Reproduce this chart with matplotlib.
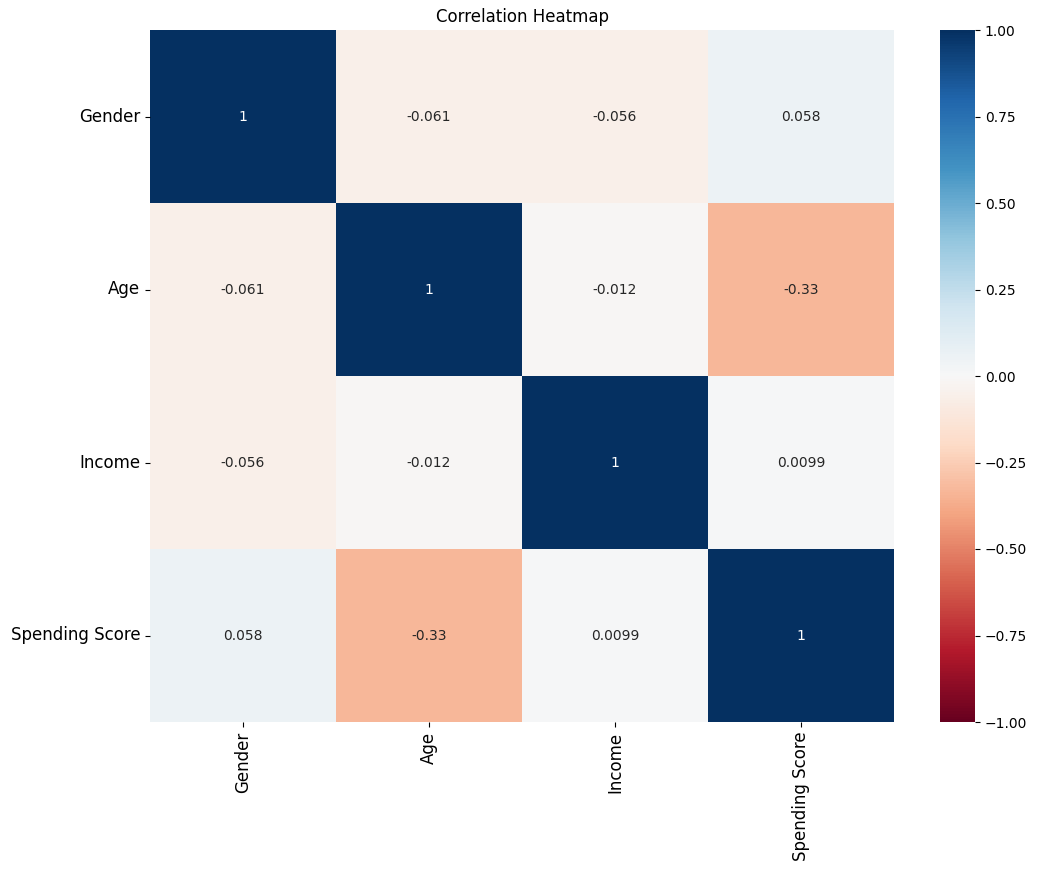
import numpy as np
import pandas as pd
import seaborn as sns
import matplotlib
matplotlib.use("Agg")
import matplotlib.pyplot as plt

labels = ["Gender", "Age", "Income", "Spending Score"]
gender = [1, -0.061, -0.056, 0.058]
age = [-0.061, 1, -0.012, -0.33]
income = [-0.056, -0.012, 1, 0.0099]
spending = [0.058, -0.33, 0.0099, 1]

corr = pd.DataFrame([gender, age, income, spending], index=labels, columns=labels)

fig = plt.figure(figsize=(10.37, 8.73), dpi=100)
ax = fig.add_axes([150/1037, 151/873, 744/1037, 692/873])
cax = fig.add_axes([940/1037, 151/873, 35/1037, 692/873])

sns.heatmap(corr, annot=True, cmap="RdBu", vmin=-1, vmax=1, ax=ax, cbar_ax=cax)
ax.set_title("Correlation Heatmap")
ax.tick_params(axis="both", labelsize=12)
plt.setp(ax.get_yticklabels(), rotation=0)
plt.setp(ax.get_xticklabels(), rotation=90)

fig.savefig("out.png", dpi=100)
